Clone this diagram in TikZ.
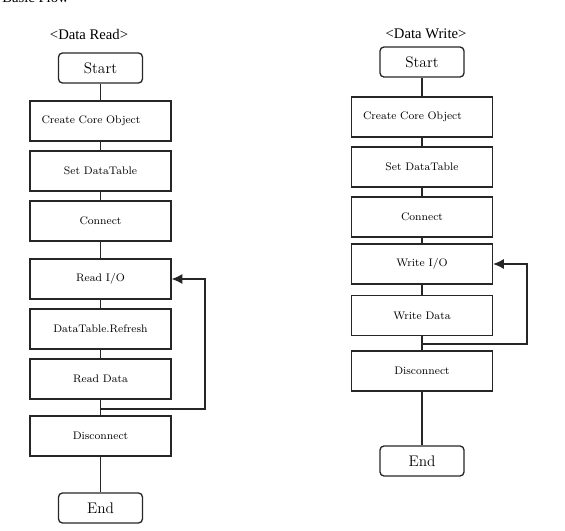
\documentclass[tikz,border=0pt]{standalone}
\usepackage{fontspec}
\newfontfamily\headfont{Liberation Serif}
\usetikzlibrary{arrows.meta}

\tikzset{
    flow box/.style={draw=black!85, line width=1pt, minimum width=105.75pt, minimum height=30pt, inner sep=0pt, font=\fontsize{8.2}{10}\selectfont},
    left text/.style={flow box, text width=88.5pt, inner xsep=8.6pt, align=left},
    terminal/.style={draw=black!85, line width=1pt, rounded corners=3pt, minimum width=63pt, minimum height=22.5pt, inner sep=0pt, font=\fontsize{11.5}{13}\selectfont},
    heading/.style={font=\headfont\fontsize{11}{13}\selectfont, inner sep=0pt},
    link/.style={draw=black!85, line width=0.8pt},
    back link/.style={link, -{Latex[length=8pt,width=7.5pt]}},
}

\begin{document}
\begin{tikzpicture}[x=0.75pt, y=-0.75pt]
                \useasboundingbox (0,0) rectangle (565,531);
                \clip (0,0) rectangle (565,531);
                \node[heading, anchor=base west] (title) at (2,3) {Basic Flow};
                \begin{scope}
                    \node[heading] (rHead) at (89,34) {<Data Read>};
                    \node[terminal] (rStart) at (100.5,68) {Start};
                    \node[left text] (rCreate) at (100.5,121) {Create Core Object};
                    \node[flow box] (rSet) at (100.5,171) {Set DataTable};
                    \node[flow box] (rConnect) at (100.5,221) {Connect};
                    \node[flow box] (rReadIO) at (100.5,279) {Read I/O};
                    \node[flow box] (rRefresh) at (100.5,329) {DataTable.Refresh};
                    \node[flow box] (rReadData) at (100.5,379) {Read Data};
                    \node[flow box] (rDisconnect) at (100.5,436) {Disconnect};
                    \node[terminal] (rEnd) at (100.5,508) {End};
                    \coordinate (rLoop) at (100.5,409);
                    \draw[link] (rStart) -- (rCreate) -- (rSet) -- (rConnect) -- (rReadIO) -- (rRefresh) -- (rReadData) -- (rDisconnect) -- (rEnd);
                    \draw[back link] (rLoop) -- ++(104.5,0) |- (rReadIO.east);
                \end{scope}
                \begin{scope}
                    \node[heading] (wHead) at (426,34) {<Data Write>};
                    \node[terminal] (wStart) at (422,62) {Start};
                    \node[left text] (wCreate) at (422,117) {Create Core Object};
                    \node[flow box] (wSet) at (422,167) {Set DataTable};
                    \node[flow box] (wConnect) at (422,217) {Connect};
                    \node[flow box] (wWriteIO) at (422,264) {Write I/O};
                    \node[flow box] (wWriteData) at (422,315.5) {Write Data};
                    \node[flow box] (wDisconnect) at (422,371) {Disconnect};
                    \node[terminal] (wEnd) at (422,461) {End};
                    \coordinate (wLoop) at (422,344);
                    \draw[link] (wStart) -- (wCreate) -- (wSet) -- (wConnect) -- (wWriteIO) -- (wWriteData) -- (wDisconnect) -- (wEnd);
                    \draw[back link] (wLoop) -- ++(105,0) |- (wWriteIO.east);
                \end{scope}
            \end{tikzpicture}
\end{document}
